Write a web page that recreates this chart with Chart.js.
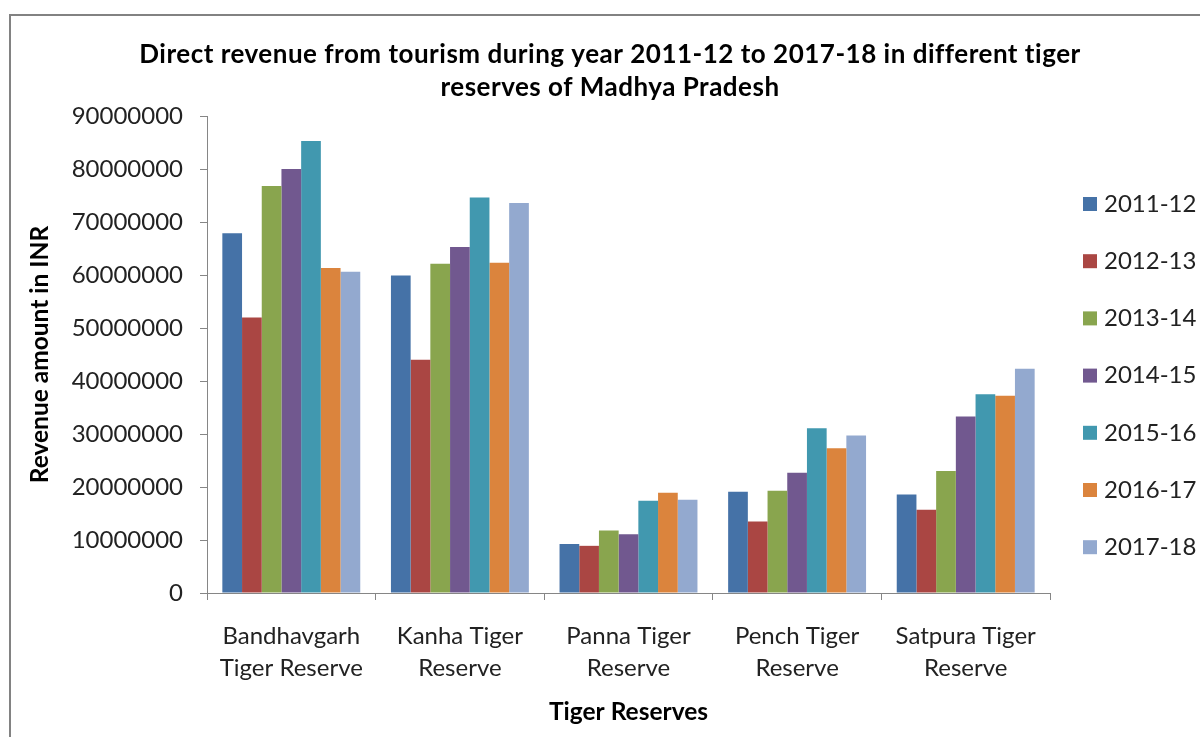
<!DOCTYPE html>
<html>
<head>
<meta charset="utf-8">
<title>Tiger reserve tourism revenue</title>
<script src="https://cdn.jsdelivr.net/npm/chart.js@4.4.0/dist/chart.umd.min.js"></script>
<style>
  html, body { margin: 0; padding: 0; background: #fff; }
  #wrap { width: 1200px; height: 737px; }
</style>
</head>
<body>
<div id="wrap"><canvas id="chart" width="1200" height="737"></canvas></div>
<script>
// Reserves on the x axis (two-line labels)
    const reserves = [
        ['Bandhavgarh', 'Tiger Reserve'],
        ['Kanha Tiger', 'Reserve'],
        ['Panna Tiger', 'Reserve'],
        ['Pench Tiger', 'Reserve'],
        ['Satpura Tiger', 'Reserve']
    ];

    const years = ['2011-12', '2012-13', '2013-14', '2014-15', '2015-16', '2016-17', '2017-18'];

// Revenue in INR, one array per year, in reserve order
    const rev2011 = [67900000, 59900000, 9250000, 19100000, 18600000];
    const rev2012 = [52000000, 44000000, 8900000, 13500000, 15700000];
    const rev2013 = [76800000, 62100000, 11800000, 19300000, 23000000];
    const rev2014 = [80000000, 65300000, 11100000, 22700000, 33300000];
    const rev2015 = [85300000, 74600000, 17400000, 31100000, 37500000];
    const rev2016 = [61300000, 62300000, 18900000, 27300000, 37200000];
    const rev2017 = [60600000, 73600000, 17600000, 29700000, 42300000];

    const yTicks = [0, 10000000, 20000000, 30000000, 40000000, 50000000, 60000000, 70000000, 80000000, 90000000];

    const series = [rev2011, rev2012, rev2013, rev2014, rev2015, rev2016, rev2017];
    const colors = ['#4572A7', '#AA4643', '#89A54E', '#71588F', '#4198AF', '#DB843D', '#93A9CF'];

    const FONT = 'Lato';
    const AXIS = '#868686';

// setup
    const data = {
        labels: reserves,
        datasets: years.map((yr, i) => ({
            label: yr,
            data: series[i],
            backgroundColor: colors[i],
            borderWidth: 0,
            barPercentage: 1,
            categoryPercentage: 0.818
        }))
    };

// white page + grey frame
    const framePlugin = {
        id: 'frame',
        beforeDraw(chart) {
            const ctx = chart.ctx;
            ctx.save();
            ctx.fillStyle = '#fff';
            ctx.fillRect(0, 0, chart.width, chart.height);
            ctx.strokeStyle = '#828282';
            ctx.lineWidth = 2;
            ctx.strokeRect(10, 15, chart.width + 20, chart.height + 20);
            ctx.restore();
        }
    };

// title, two centred lines
    const titlePlugin = {
        id: 'twoLineTitle',
        afterDraw(chart) {
            const ctx = chart.ctx;
            ctx.save();
            ctx.fillStyle = '#000';
            ctx.font = 'bold 26px ' + FONT;
            ctx.letterSpacing = '0.5px';
            ctx.textAlign = 'center';
            ctx.textBaseline = 'middle';
            ctx.fillText('Direct revenue from tourism during year 2011-12 to 2017-18 in different tiger', 610, 55);
            ctx.fillText('reserves of Madhya Pradesh', 610, 88);
            ctx.restore();
        }
    };

// legend column on the right
    const legendPlugin = {
        id: 'sideLegend',
        afterDraw(chart) {
            const ctx = chart.ctx;
            ctx.save();
            ctx.font = '24px ' + FONT;
            ctx.textBaseline = 'middle';
            ctx.textAlign = 'left';
            chart.data.datasets.forEach((ds, i) => {
                const y = 204 + i * 57.2;
                ctx.fillStyle = ds.backgroundColor;
                ctx.fillRect(1083, y - 7, 14, 14);
                ctx.fillStyle = '#222';
                ctx.fillText(ds.label, 1104, y);
            });
            ctx.restore();
        }
    };

// config
    const config = {
        type: 'bar',
        data,
        plugins: [framePlugin, titlePlugin, legendPlugin],
        options: {
            responsive: false,
            animation: false,
            layout: {
                padding: { left: 10, right: 150, top: 116, bottom: 0 }
            },
            plugins: {
                legend: { display: false },
                title: { display: false },
                tooltip: { enabled: false }
            },
            scales: {
                y: {
                    min: 0,
                    max: 90000000,
                    afterBuildTicks: (scale) => {
                        scale.ticks = yTicks.map(v => ({ value: v }));
                    },
                    afterFit: (scale) => { scale.width = 197; },
                    ticks: {
                        color: '#222',
                        font: { family: FONT, size: 24 },
                        padding: 17,
                        callback: (v) => String(v)
                    },
                    grid: {
                        drawOnChartArea: false,
                        tickLength: 7,
                        color: AXIS
                    },
                    border: { color: AXIS, width: 1 },
                    title: {
                        display: true,
                        text: 'Revenue amount in INR',
                        color: '#000',
                        font: { family: FONT, size: 24.5, weight: 'bold' },
                        padding: { top: 15, bottom: 0 }
                    }
                },
                x: {
                    afterFit: (scale) => { scale.height = 144; },
                    ticks: {
                        color: '#222',
                        font: { family: FONT, size: 24, lineHeight: 1.3 },
                        padding: 21,
                        maxRotation: 0,
                        autoSkip: false
                    },
                    grid: {
                        offset: true,
                        drawOnChartArea: false,
                        tickLength: 7,
                        color: AXIS
                    },
                    border: { color: AXIS, width: 1 },
                    title: {
                        display: true,
                        text: 'Tiger Reserves',
                        color: '#000',
                        font: { family: FONT, size: 24.5, weight: 'bold' },
                        padding: { top: 0, bottom: 10 }
                    }
                }
            }
        }
    };

// render
    const myChart = new Chart(document.getElementById('chart'), config);
</script>
</body>
</html>
